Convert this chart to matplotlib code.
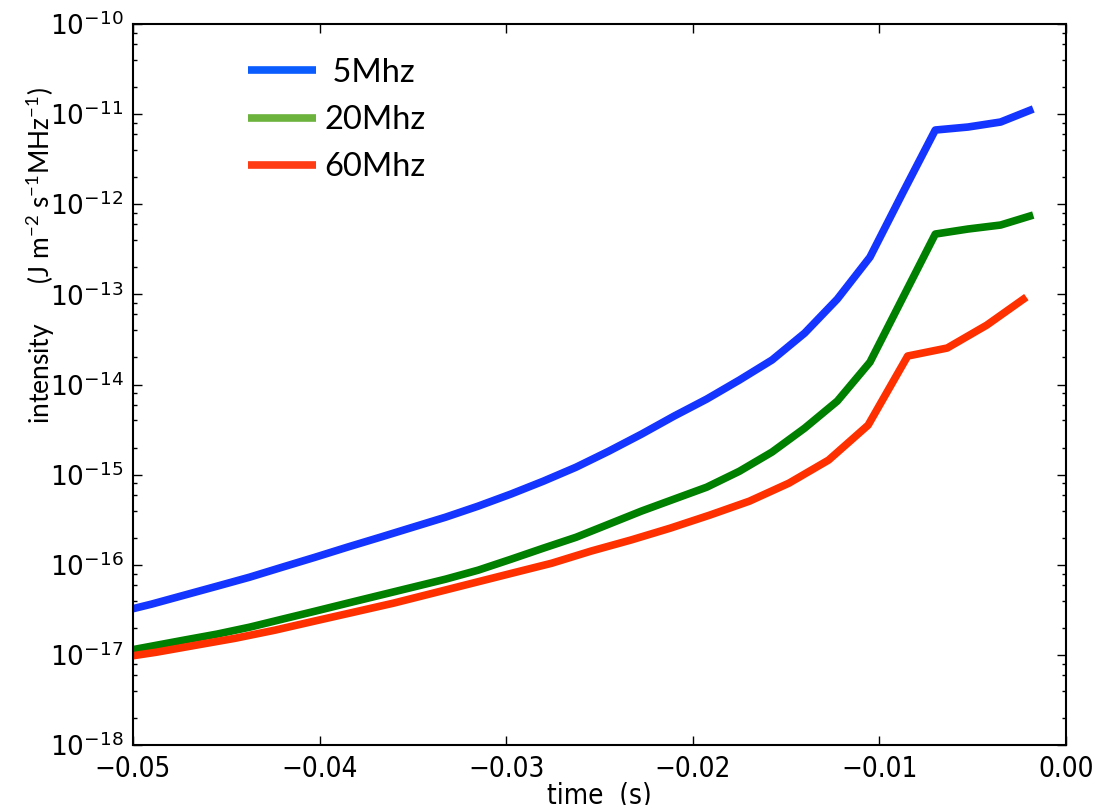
import numpy as np
import matplotlib
matplotlib.use("Agg")
import matplotlib.pyplot as plt
from matplotlib.lines import Line2D
from matplotlib.ticker import LogLocator, NullFormatter

# time grid for 5 and 20 MHz (s)
t_low = [-0.05075, -0.049, -0.04725, -0.0455, -0.04375, -0.042, -0.04025, -0.0385,
         -0.03675, -0.035, -0.03325, -0.0315, -0.02975, -0.028, -0.02625, -0.0245,
         -0.02275, -0.021, -0.01925, -0.0175, -0.01575, -0.014, -0.01225, -0.0105,
         -0.00875, -0.007, -0.00525, -0.0035, -0.00175]
# time grid for 60 MHz (s)
t_high = [-0.05088, -0.04876, -0.04664, -0.04452, -0.0424, -0.04028, -0.03816, -0.03604,
          -0.03392, -0.0318, -0.02968, -0.02756, -0.02544, -0.02332, -0.0212, -0.01908,
          -0.01696, -0.01484, -0.01272, -0.0106, -0.00848, -0.00636, -0.00424, -0.00212]

i_5mhz = [2.98e-17, 3.66e-17, 4.60e-17, 5.78e-17, 7.28e-17, 9.4e-17, 1.21e-16, 1.57e-16,
          2.02e-16, 2.61e-16, 3.37e-16, 4.47e-16, 6.08e-16, 8.47e-16, 1.21e-15, 1.82e-15,
          2.81e-15, 4.46e-15, 6.89e-15, 1.12e-14, 1.87e-14, 3.72e-14, 8.87e-14, 2.59e-13,
          1.33e-12, 6.66e-12, 7.19e-12, 8.17e-12, 1.14e-11]
i_20mhz = [1.07e-17, 1.25e-17, 1.46e-17, 1.70e-17, 2.03e-17, 2.49e-17, 3.05e-17, 3.75e-17,
           4.60e-17, 5.64e-17, 6.92e-17, 8.71e-17, 1.15e-16, 1.53e-16, 2.02e-16, 2.82e-16,
           3.94e-16, 5.35e-16, 7.26e-16, 1.09e-15, 1.78e-15, 3.28e-15, 6.55e-15, 1.77e-14,
           9.10e-14, 4.67e-13, 5.31e-13, 5.88e-13, 7.59e-13]
i_60mhz = [9.19e-18, 1.07e-17, 1.28e-17, 1.53e-17, 1.88e-17, 2.37e-17, 2.98e-17, 3.75e-17,
           4.84e-17, 6.25e-17, 8.07e-17, 1.04e-16, 1.42e-16, 1.88e-16, 2.55e-16, 3.56e-16,
           5.08e-16, 8.05e-16, 1.45e-15, 3.54e-15, 2.07e-14, 2.54e-14, 4.56e-14, 9.33e-14]

labels = [" 5Mhz", "20Mhz", "60Mhz"]
line_colors = ["#1434ff", "#008000", "#ff3000"]
legend_colors = ["#0a5cff", "#6cb33e", "#ff3c14"]

xticks = [-0.05, -0.04, -0.03, -0.02, -0.01, 0.0]
xtick_labels = ["\u22120.05", "\u22120.04", "\u22120.03", "\u22120.02", "\u22120.01", "0.00"]

fig = plt.figure(figsize=(11.08, 8.05), dpi=100)
ax = fig.add_axes([0.120, 0.0745, 0.842, 0.8957])

for t, vals, c in zip([t_low, t_low, t_high], [i_5mhz, i_20mhz, i_60mhz], line_colors):
    ax.plot(t, vals, color=c, lw=5.5, solid_capstyle="butt")

ax.set_yscale("log")
ax.set_xlim(-0.05, 0.0)
ax.set_ylim(1e-18, 1e-10)
ax.yaxis.set_major_locator(LogLocator(base=10, numticks=20))
ax.yaxis.set_minor_locator(LogLocator(base=10, subs=(2, 4, 6, 8), numticks=20))
ax.yaxis.set_minor_formatter(NullFormatter())
ax.set_xticks(xticks)
ax.set_xticklabels(xtick_labels)

ax.tick_params(which="both", direction="in", top=True, right=True, width=1)
ax.tick_params(which="major", length=6.5)
ax.tick_params(which="minor", length=3)
ax.tick_params(axis="y", labelsize=19, pad=7)
ax.tick_params(axis="x", labelsize=20, pad=7)
for lab in ax.get_xticklabels():
    lab.set_fontstretch("condensed")
for s in ax.spines.values():
    s.set_linewidth(1.5)

ax.set_xlabel("time  (s)", fontsize=20, fontstretch="condensed", labelpad=-1)
fig.text(0.036, 0.682, "intensity      (J m$^{\\mathdefault{-2}}$ s$^{\\mathdefault{-1}}$MHz$^{\\mathdefault{-1}}$)",
         rotation=90, ha="center", va="center", fontsize=19, family=["Lato", "DejaVu Sans"])

handles = [Line2D([], [], color=c, lw=5.5, solid_capstyle="butt") for c in legend_colors]
leg = ax.legend(handles, labels, loc="upper left", bbox_to_anchor=(0.123, 0.953),
                frameon=False, borderpad=0, borderaxespad=0, handlelength=2.1,
                handletextpad=0.25, labelspacing=0.53,
                prop={"family": ["Lato", "DejaVu Sans"], "size": 23.5})

fig.savefig("out.png", dpi=100)
